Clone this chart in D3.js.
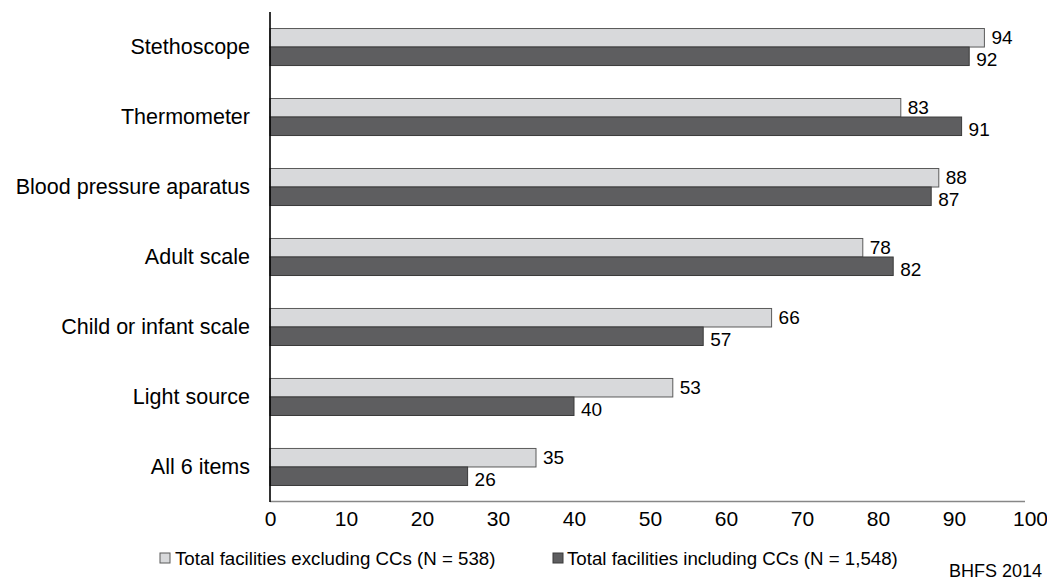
<!DOCTYPE html>
<html>
<head>
<meta charset="utf-8">
<script src="https://cdn.jsdelivr.net/npm/d3@7/dist/d3.min.js"></script>
<style>
  html, body { margin: 0; padding: 0; background: #fff; }
  svg { display: block; font-family: "Liberation Sans", Arial, sans-serif; }
</style>
</head>
<body>
<svg id="chart" width="1047" height="581"></svg>
<script>
const categories = ["Stethoscope", "Thermometer", "Blood pressure aparatus", "Adult scale", "Child or infant scale", "Light source", "All 6 items"];
const seriesNames = ["Total facilities excluding CCs (N = 538)", "Total facilities including CCs (N = 1,548)"];
const excludingCCs = [94, 83, 88, 78, 66, 53, 35];
const includingCCs = [92, 91, 87, 82, 57, 40, 26];
const xTicks = [0, 10, 20, 30, 40, 50, 60, 70, 80, 90, 100];
const sourceNote = "BHFS 2014";

const series = [excludingCCs, includingCCs];
const colors = ["#d8d9db", "#5e5e60"];
const strokes = ["#5a5a5a", "#3a3a3a"];
const labelShift = [0, 3];

const svg = d3.select("#chart");

const x = d3.scaleLinear().domain([0, 100]).range([270, 1030]);
const y0 = d3.scaleBand().domain(categories).range([12, 502]).paddingInner(0.471).paddingOuter(0.236);
const y1 = d3.scaleBand().domain(d3.range(series.length)).range([0, y0.bandwidth()]);

// bars
const groups = svg.append("g").selectAll("g")
  .data(categories)
  .join("g")
  .attr("transform", d => `translate(0,${y0(d)})`);

groups.selectAll("rect")
  .data((c, i) => series.map((s, k) => ({ k, v: s[i] })))
  .join("rect")
  .attr("x", x(0))
  .attr("y", d => y1(d.k))
  .attr("width", d => x(d.v) - x(0))
  .attr("height", y1.bandwidth())
  .attr("fill", d => colors[d.k])
  .attr("stroke", d => strokes[d.k])
  .attr("stroke-width", 1);

groups.selectAll("text")
  .data((c, i) => series.map((s, k) => ({ k, v: s[i] })))
  .join("text")
  .attr("x", d => x(d.v) + 7)
  .attr("y", d => y1(d.k) + y1.bandwidth() / 2 + labelShift[d.k])
  .attr("dy", "0.35em")
  .attr("font-size", 19)
  .attr("fill", "#000")
  .text(d => d.v);

// x axis
const xAxis = svg.append("g")
  .attr("transform", `translate(0,501.5)`)
  .call(d3.axisBottom(x).tickValues(xTicks).tickSize(0).tickSizeOuter(0).tickPadding(10).tickFormat(d3.format("d")));
xAxis.select(".domain").attr("stroke", "#878787").attr("stroke-width", 1.6)
  .attr("d", `M${x(0)},0H1025`);
xAxis.selectAll("text").attr("font-size", 21).attr("fill", "#000")
  .attr("font-family", "Liberation Sans, Arial, sans-serif");

// y axis
const yAxis = svg.append("g")
  .attr("transform", `translate(${x(0)},0)`)
  .call(d3.axisLeft(y0).tickSize(0).tickPadding(20));
yAxis.select(".domain").attr("stroke", "#000").attr("stroke-width", 1.6)
  .attr("d", "M0,12V502");
yAxis.selectAll("text").attr("font-size", 21.5).attr("fill", "#000")
  .attr("font-family", "Liberation Sans, Arial, sans-serif");

// legend
const legendPos = [{ sx: 160, tx: 175 }, { sx: 553, tx: 567 }];
const legend = svg.append("g");
series.forEach((s, k) => {
  legend.append("rect")
    .attr("x", legendPos[k].sx).attr("y", 553)
    .attr("width", 10).attr("height", 10)
    .attr("fill", colors[k]).attr("stroke", strokes[k]).attr("stroke-width", 1);
  legend.append("text")
    .attr("x", legendPos[k].tx).attr("y", 564.5)
    .attr("font-size", 18.7).attr("fill", "#000")
    .text(seriesNames[k]);
});

svg.append("text")
  .attr("x", 1042).attr("y", 577)
  .attr("text-anchor", "end")
  .attr("font-size", 18)
  .attr("fill", "#000")
  .text(sourceNote);
</script>
</body>
</html>
